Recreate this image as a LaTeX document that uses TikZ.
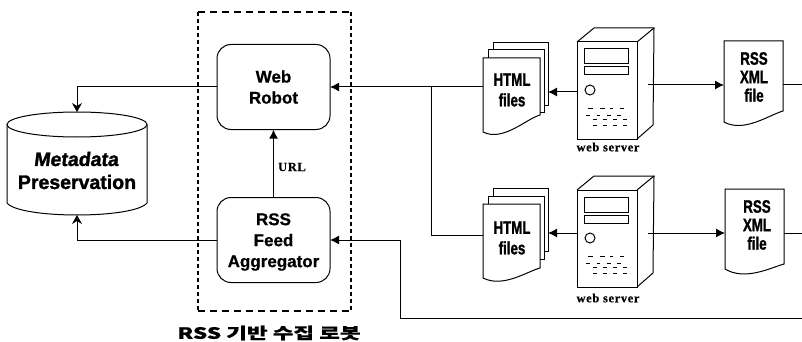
\documentclass[tikz,border=0pt]{standalone}
\usepackage{fontspec}
\setmainfont{Liberation Sans}
\newfontfamily\narf{Liberation Sans}[FakeStretch=0.74,FakeBold=1.2]
\newfontfamily\medf{Liberation Sans}[FakeBold=0.8]
\newfontfamily\serf{Liberation Serif}[LetterSpace=5,FakeBold=0.5]
\newfontfamily\heavyf{Liberation Sans}[FakeBold=1.5]
\newfontfamily\heavysl{Liberation Sans}[FakeBold=1.5,FakeSlant=0.12]
\newfontfamily\krf{Noto Sans CJK KR}[FakeStretch=1.45,FakeBold=0.6]
\usetikzlibrary{arrows.meta}
\tikzset{
  x=1pt,y=-1pt,
  every node/.style={inner sep=0pt,outer sep=0pt,align=center},
  ln/.style={line width=1pt,draw=black},
  arr/.style={ln,-{Latex[length=9pt,width=9pt]}},
  arrs/.style={ln,-{Stealth[length=9pt,width=10pt,inset=3pt]}},
  roundbox/.style={draw=black,line width=1pt,rounded corners=14pt,minimum width=113pt,minimum height=85pt},
  boxtext/.style={font=\medf\bfseries\fontsize{17}{21}\selectfont},
  dochit/.style={font=\narf\bfseries\fontsize{18}{20}\selectfont},
  srvlabel/.style={font=\serf\bfseries\fontsize{12.5}{14}\selectfont},
  dashh/.style={line width=1.8pt,dash pattern=on 7pt off 5pt},
  dashv/.style={line width=1.8pt,dash pattern=on 4pt off 3pt},
  srvline/.style={line width=1pt},
  dsh/.style={line width=0.9pt}
}
\newcommand{\paperwave}[6]{%
  \draw[ln,fill=white] (#1,#2) -- (#3,#2) -- (#3,#6)
    .. controls ({#3-14},{#6+4}) and ({#1+20},{#5+5}) .. (#1,#4) -- cycle;}
\newcommand{\backsheet}[5]{%
  \draw[ln,fill=white] (#1,#2) -- (#3,#2) -- (#3,#4) -- (#5,#4);}
\newcommand{\serverart}[3]{%
  \begin{scope}[shift={(#1,#2)}]
    \node[draw=black,line width=1pt,minimum width=60pt,minimum height=97pt,name=#3] at (30,48.5) {};
    \draw[srvline] (0,0) -- (17,-14) -- (77,-14) -- (76,83) -- (60,97);
    \draw[srvline] (60,0) -- (77,-14);
    \draw[srvline] (7,7) rectangle (51,22);
    \draw[srvline] (7,25) rectangle (51,33);
    \draw[srvline] (13,48) circle[radius=5];
    \foreach \a/\b in {11.3/16.3,23/28,33/36.3,43/47} \draw[dsh] (\a,66) -- (\b,66);
    \foreach \a/\b in {8.7/13,19.7/23,29.7/34,39.7/43.7} \draw[dsh] (\a,73) -- (\b,73);
    \foreach \a/\b in {15.7/20,26/30,36/40,46/50} {\draw[dsh] (\a,77.5) -- (\b,77.5); \draw[dsh] (\a,83) -- (\b,83);}
  \end{scope}}
\begin{document}
\begin{tikzpicture}
\useasboundingbox (0,0) rectangle (802,342);
\fill[white] (0,0) rectangle (802,342);

% cylinder
\draw[ln] (7,124.5) -- (7,203) .. controls (20,219) and (134,219) .. (147,203) -- (147,124.5);
\draw[ln] (77,124.5) ellipse[x radius=70,y radius=12.5];
\node[minimum width=140pt,minimum height=103pt] (meta) at (77,163.5) {};
\node[font=\heavysl\bfseries\fontsize{19.5}{22}\selectfont] (metal1) at (76,159) {Metadata};
\node[font=\heavyf\bfseries\fontsize{19.5}{22}\selectfont] (metal2) at (77,182) {Preservation};

% group box
\node[minimum width=153pt,minimum height=299pt] (group) at (274.5,161.5) {};
\draw[dashh] (group.north west) -- (group.north east);
\draw[dashh] (group.south west) -- (group.south east);
\draw[dashv] (group.north west) -- (group.south west);
\draw[dashv] (group.north east) -- (group.south east);
\node[font=\krf\bfseries\fontsize{15.5}{17}\selectfont] (grouplabel) at (269,333) {RSS 기반 수집 로봇};

% agents
\node[roundbox] (robot) at (273.5,87) {};
\node[boxtext] (robott) at (273.5,87) {Web\\Robot};
\node[roundbox] (agg) at (273.5,240) {};
\node[boxtext] (aggt) at (273.5,242) {RSS\\Feed\\Aggregator};
\node[font=\serf\bfseries\fontsize{12.5}{14}\selectfont] (urllabel) at (292,167) {URL};

% upper row
\backsheet{493}{43}{548}{106}{544}
\draw[ln] (493,43) -- (493,50);
\backsheet{488}{50}{544}{113}{540}
\draw[ln] (488,50) -- (488,58);
\paperwave{483}{58}{540}{132}{137}{115}
\node[minimum width=57pt,minimum height=58pt] (h1) at (511.5,87) {};
\node[dochit] (h1t) at (512,90) {HTML\\[0.5pt]files};
\serverart{577}{42}{srv1}
\node[srvlabel] (s1label) at (608,147) {web server};
\paperwave{724}{41}{783}{122}{128}{111}
\node[minimum width=59pt,minimum height=88pt] (r1) at (753.5,85) {};
\node[dochit] (r1t) at (754,77) {RSS\\[-1.5pt]XML\\[-1.5pt]file};

% lower row
\backsheet{493}{188}{548}{251}{544}
\draw[ln] (493,188) -- (493,196);
\backsheet{488}{196}{544}{259}{540}
\draw[ln] (488,196) -- (488,204);
\paperwave{483}{204}{540}{278}{283}{268}
\node[minimum width=57pt,minimum height=62pt] (h2) at (511.5,235) {};
\node[dochit] (h2t) at (512,238) {HTML\\[0.5pt]files};
\serverart{577}{190}{srv2}
\node[srvlabel] (s2label) at (608,298) {web server};
\paperwave{725}{189}{784}{269}{276}{264}
\node[minimum width=59pt,minimum height=88pt] (r2) at (754.5,233) {};
\node[dochit] (r2t) at (757,225) {RSS\\[-1.5pt]XML\\[-1.5pt]file};

% free ends and junctions
\coordinate (j1) at (431,87);
\coordinate (b1) at (548,92);
\coordinate (b2) at (548,233);
\coordinate (o1) at (648,85);
\coordinate (o2) at (648,233);
\coordinate (e1) at (802,85);
\coordinate (e2) at (802,233);
\coordinate (e3) at (802,318);
\coordinate (c1) at (400,318);

% connectors
\draw[arrs] (robot.west) -| (meta.north);
\draw[arrs] (agg.west) -| (meta.south);
\draw[arr,line width=1.5pt] (agg.north) -- (robot.south);
\draw[arr] (h1.west) -- (robot.east);
\draw[ln] (j1) |- (h2.west);
\draw[arr] (srv1.west |- b1) -- (b1);
\draw[arr] (srv2.west |- b2) -- (b2);
\draw[arr] (o1) -- (r1.west);
\draw[arr] (o2) -- (r2.west);
\draw[ln] (r1.east) -- (e1);
\draw[ln] (r2.east) -- (e2);
\draw[arr] (e3) -- (c1) |- (agg.east);
\end{tikzpicture}
\end{document}
